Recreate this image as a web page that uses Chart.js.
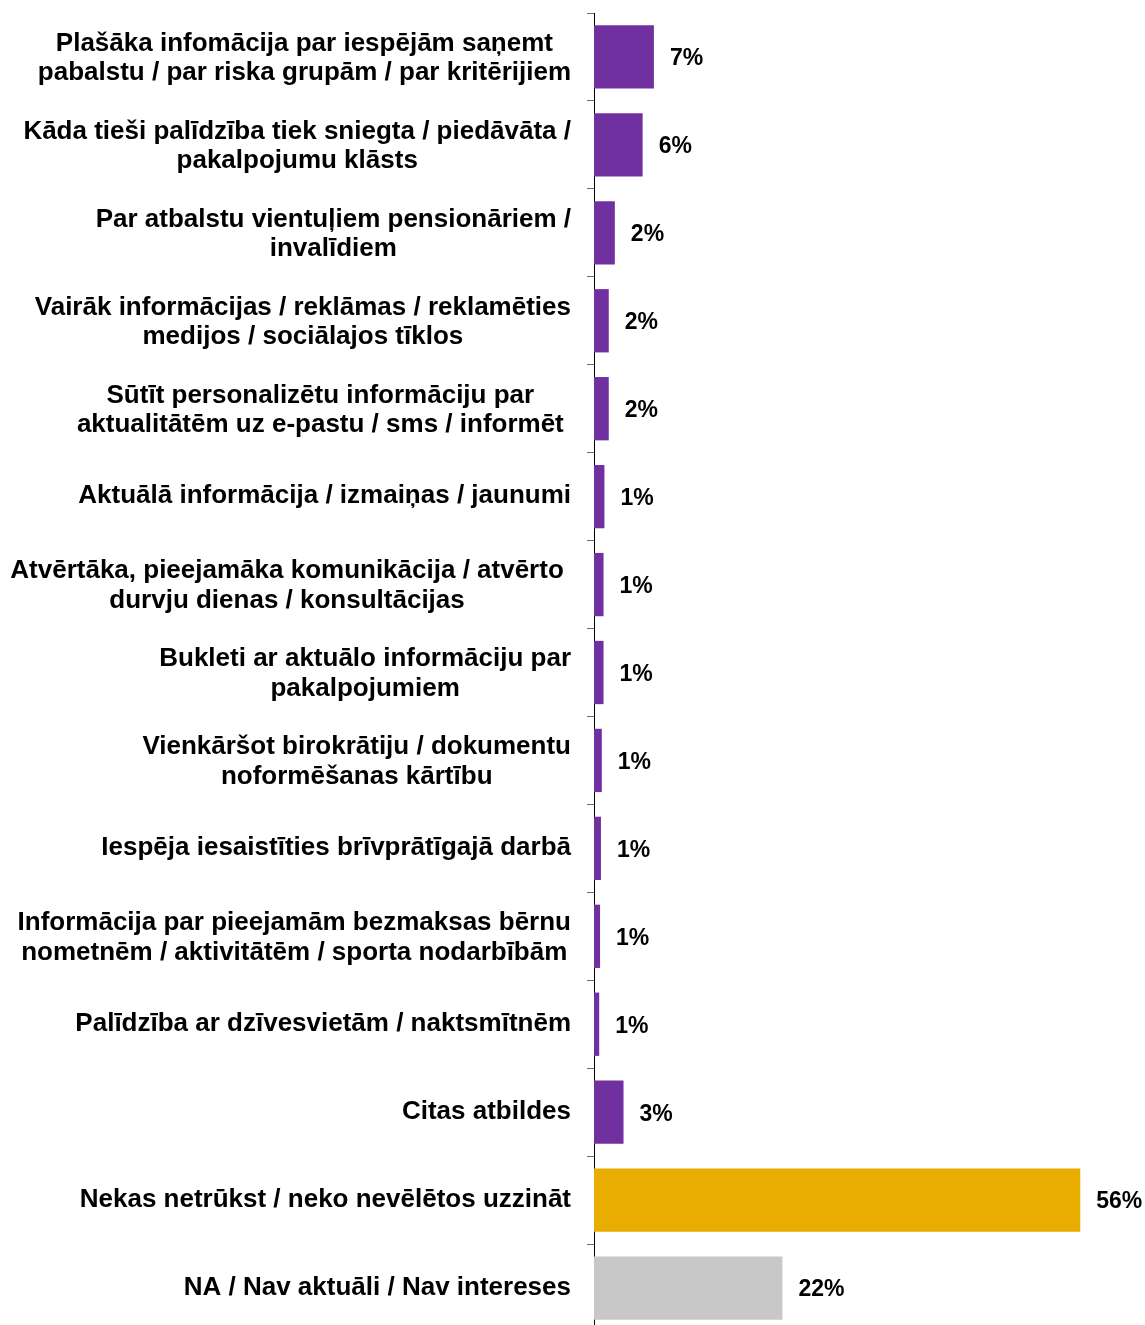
<!DOCTYPE html>
<html>
<head>
<meta charset="utf-8">
<script src="https://cdn.jsdelivr.net/npm/chart.js@4.4.1/dist/chart.umd.min.js"></script>
<style>
    html, body { margin: 0; padding: 0; background: #fff; overflow: hidden; }
    canvas { display: block; }
</style>
</head>
<body>
<canvas id="chart" width="1145" height="1332"></canvas>
<script>
// ------------------------------------
// DATA
// ------------------------------------
const categories = [
    ["Plašāka infomācija par iespējām saņemt", "pabalstu / par riska grupām / par kritērijiem"],
    ["Kāda tieši palīdzība tiek sniegta / piedāvāta /", "pakalpojumu klāsts"],
    ["Par atbalstu vientuļiem pensionāriem /", "invalīdiem"],
    ["Vairāk informācijas / reklāmas / reklamēties", "medijos / sociālajos tīklos"],
    ["Sūtīt personalizētu informāciju par ", "aktualitātēm uz e-pastu / sms / informēt "],
    "Aktuālā informācija / izmaiņas / jaunumi",
    ["Atvērtāka, pieejamāka komunikācija / atvērto ", "durvju dienas / konsultācijas "],
    ["Bukleti ar aktuālo informāciju par", "pakalpojumiem"],
    ["Vienkāršot birokrātiju / dokumentu", "noformēšanas kārtību"],
    "Iespēja iesaistīties brīvprātīgajā darbā",
    ["Informācija par pieejamām bezmaksas bērnu", "nometnēm / aktivitātēm / sporta nodarbībām"],
    "Palīdzība ar dzīvesvietām / naktsmītnēm",
    "Citas atbildes",
    "Nekas netrūkst / neko nevēlētos uzzināt",
    "NA / Nav aktuāli / Nav intereses"
];

const values = [6.9, 5.6, 2.4, 1.7, 1.7, 1.2, 1.1, 1.1, 0.9, 0.8, 0.7, 0.6, 3.4, 56, 21.7];

const xMin = 0;
const xMax = 60;

// ------------------------------------
// LOOK
// ------------------------------------
const PURPLE = "#7030A0";
const GOLD = "#E9AC00";
const GREY = "#C8C8C8";
const FONT = "'Liberation Sans', Arial, sans-serif";
const LABEL_RIGHT = 571;
const LINE_H = 29.5;

function barColor(i) {
    if (i === 13) return GOLD;
    if (i === 14) return GREY;
    return PURPLE;
}

// ------------------------------------
// CATEGORY LABELS (right-aligned block, centred lines)
// ------------------------------------
const categoryLabels = {
    id: "categoryLabels",
    afterDraw(chart) {
        const ctx = chart.ctx;
        const yScale = chart.scales.y;
        ctx.save();
        ctx.font = "bold 26px " + FONT;
        ctx.fillStyle = "#000";
        ctx.textAlign = "center";
        ctx.textBaseline = "middle";
        categories.forEach((lab, i) => {
            const lines = Array.isArray(lab) ? lab : [lab];
            const widest = Math.max(...lines.map(l => ctx.measureText(l).width));
            const cx = LABEL_RIGHT - widest / 2;
            const cy = yScale.getPixelForValue(i) + (lines.length > 1 ? 1.5 : -0.5);
            lines.forEach((l, k) => {
                ctx.fillText(l, cx, cy + (k - (lines.length - 1) / 2) * LINE_H);
            });
        });
        ctx.restore();
    }
};

// ------------------------------------
// VALUE LABELS
// ------------------------------------
const valueLabels = {
    id: "valueLabels",
    afterDatasetsDraw(chart) {
        const ctx = chart.ctx;
        const meta = chart.getDatasetMeta(0);
        ctx.save();
        ctx.font = "bold 23px " + FONT;
        ctx.fillStyle = "#000";
        ctx.textAlign = "left";
        ctx.textBaseline = "middle";
        meta.data.forEach((bar, i) => {
            ctx.fillText(Math.round(values[i]) + "%", bar.x + 16, bar.y + 2);
        });
        ctx.restore();
    }
};

// ------------------------------------
// CHART
// ------------------------------------
const chart = new Chart(document.getElementById("chart").getContext("2d"), {
    type: "bar",
    data: {
        labels: categories,
        datasets: [{
            data: values,
            backgroundColor: values.map((v, i) => barColor(i)),
            borderWidth: 0,
            barPercentage: 0.72,
            categoryPercentage: 1.0
        }]
    },
    options: {
        indexAxis: "y",
        responsive: false,
        animation: false,
        layout: { padding: { top: 13, right: 30, bottom: 0, left: 0 } },
        plugins: {
            legend: { display: false },
            tooltip: { enabled: false }
        },
        scales: {
            x: {
                display: false,
                min: xMin,
                max: xMax
            },
            y: {
                afterFit: s => { s.width = 594; },
                ticks: { display: false },
                grid: {
                    offset: true,
                    drawOnChartArea: false,
                    drawTicks: true,
                    tickLength: 7,
                    tickColor: "#6f6f6f",
                    tickWidth: 1
                },
                border: { display: true, color: "#000", width: 1 }
            }
        }
    },
    plugins: [categoryLabels, valueLabels]
});
</script>
</body>
</html>
